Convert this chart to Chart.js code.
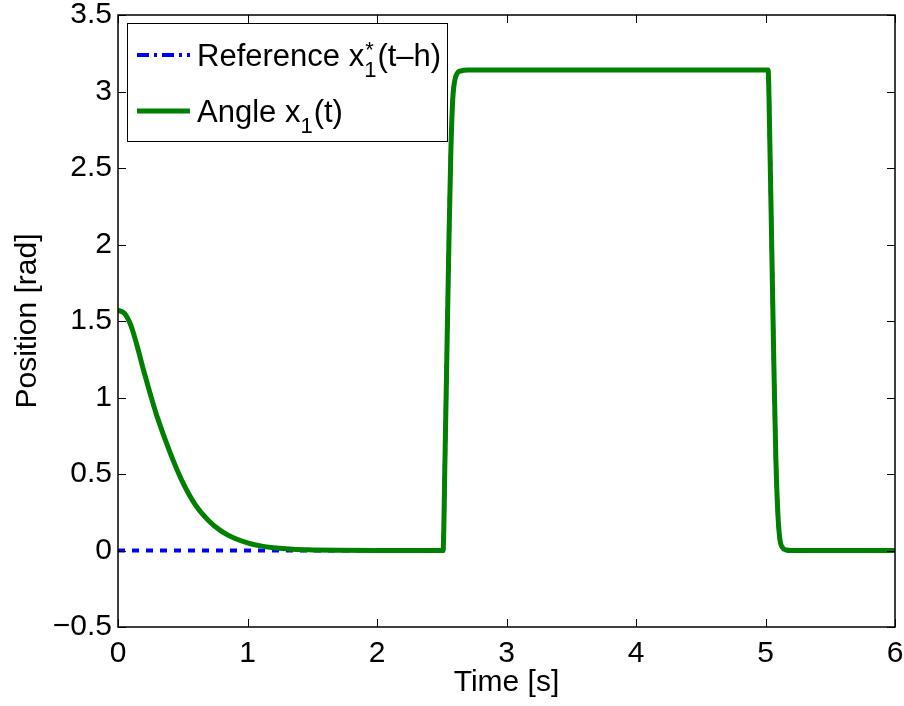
<!DOCTYPE html>
<html><head><meta charset="utf-8">
<script src="https://cdn.jsdelivr.net/npm/chart.js@4/dist/chart.umd.min.js"></script>
<style>html,body{margin:0;padding:0;background:#fff;}#wrap{width:904px;height:706px;position:relative;}</style>
</head><body><div id="wrap"><canvas id="c" width="904" height="706"></canvas></div>
<script>
// ---- data ----
const angleTime  = [0, 0.05, 0.1, 0.15, 0.2, 0.25, 0.3, 0.4, 0.5, 0.6, 0.7, 0.8, 0.9, 1.0, 1.1, 1.2, 1.35, 1.5, 1.7, 2.0, 2.3, 2.51,
                    2.525, 2.54, 2.555, 2.57, 2.585, 2.6, 2.62, 2.65, 2.7, 3.5, 4.5, 5.02,
                    5.035, 5.05, 5.065, 5.08, 5.095, 5.11, 5.13, 5.16, 5.2, 5.6, 6.0];
const angleValue = [1.57, 1.55, 1.47, 1.33, 1.17, 1.02, 0.88, 0.645, 0.445, 0.295, 0.195, 0.125, 0.08, 0.05, 0.03, 0.018, 0.008, 0.004, 0.0015, 0, 0, 0,
                    0.6, 1.3, 2.0, 2.6, 2.95, 3.07, 3.12, 3.135, 3.14, 3.14, 3.14, 3.14,
                    2.6, 1.9, 1.2, 0.6, 0.25, 0.08, 0.02, 0.003, 0, 0, 0];
const refTime  = [0, 1.0, 2.0, 2.51, 2.525, 2.54, 2.555, 2.57, 2.585, 2.6, 2.62, 2.65, 2.7, 3.5, 4.5, 5.02,
                  5.035, 5.05, 5.065, 5.08, 5.095, 5.11, 5.13, 5.16, 5.2, 6.0];
const refValue = [0, 0, 0, 0, 0.6, 1.3, 2.0, 2.6, 2.95, 3.07, 3.12, 3.135, 3.14, 3.14, 3.14, 3.14,
                  2.6, 1.9, 1.2, 0.6, 0.25, 0.08, 0.02, 0.003, 0, 0];
const xTickValues = [0, 1, 2, 3, 4, 5, 6];
const yTickValues = [-0.5, 0, 0.5, 1, 1.5, 2, 2.5, 3, 3.5];
const xTitle = 'Time [s]';
const yTitle = 'Position [rad]';

const FONT = '"Liberation Sans", Arial, Helvetica, sans-serif';
const toPts = (xs, ys) => xs.map((x, i) => ({x: x, y: ys[i]}));

const frame = {
  id: 'frame',
  afterDatasetsDraw(chart) {
    const {ctx, chartArea: a, scales: {x, y}} = chart;
    ctx.save();
    ctx.strokeStyle = '#000';
    ctx.lineWidth = 1;
    const L = 8;
    ctx.beginPath();
    xTickValues.forEach(v => {
      const px = Math.round(x.getPixelForValue(v)) + 0.5;
      ctx.moveTo(px, a.bottom); ctx.lineTo(px, a.bottom - L);
      ctx.moveTo(px, a.top); ctx.lineTo(px, a.top + L);
    });
    yTickValues.forEach(v => {
      const py = Math.round(y.getPixelForValue(v)) + 0.5;
      ctx.moveTo(a.left, py); ctx.lineTo(a.left + L, py);
      ctx.moveTo(a.right, py); ctx.lineTo(a.right - L, py);
    });
    ctx.stroke();
    ctx.lineWidth = 1.5;
    ctx.strokeRect(a.left, a.top, a.right - a.left, a.bottom - a.top);
    ctx.restore();
  },
  afterDraw(chart) {
    const {ctx, chartArea: a} = chart;
    const ds = chart.data.datasets;
    ctx.save();
    const bx = a.left + 9, by = a.top + 8, bw = 320, bh = 118;
    ctx.fillStyle = '#fff';
    ctx.fillRect(bx, by, bw, bh);
    ctx.strokeStyle = '#000';
    ctx.lineWidth = 1;
    ctx.strokeRect(bx + 0.5, by + 0.5, bw, bh);
    const rows = [by + 32, by + 88];
    const lx0 = bx + 10, lx1 = bx + 63, tx = bx + 70;
    ctx.lineCap = 'butt';
    ctx.strokeStyle = ds[0].borderColor; ctx.lineWidth = 4;
    ctx.setLineDash([12, 5, 3, 5]);
    ctx.beginPath(); ctx.moveTo(lx0, rows[0]); ctx.lineTo(lx1, rows[0]); ctx.stroke();
    ctx.setLineDash([]);
    ctx.strokeStyle = ds[1].borderColor; ctx.lineWidth = 5;
    ctx.beginPath(); ctx.moveTo(lx0, rows[1]); ctx.lineTo(lx1, rows[1]); ctx.stroke();
    ctx.fillStyle = '#000';
    ctx.textBaseline = 'alphabetic';
    ctx.textAlign = 'left';
    const big = '31px ' + FONT, small = '22px ' + FONT;
    function write(s, x, yb, f) { ctx.font = f; ctx.fillText(s, x, yb); return x + ctx.measureText(s).width; }
    let yb = rows[0] + 11, x0 = tx;
    x0 = write('Reference x', x0, yb, big);
    ctx.font = small;
    const w1 = ctx.measureText('1').width;
    write('*', x0 + 1, yb - 9, small);
    write('1', x0, yb + 11, small);
    x0 += w1 + 1;
    write('(t\u2013h)', x0, yb, big);
    yb = rows[1] + 11; x0 = tx;
    x0 = write('Angle x', x0, yb, big);
    x0 = write('1', x0, yb + 11, small);
    write('(t)', x0 + 1, yb, big);
    ctx.restore();
  }
};

new Chart(document.getElementById('c'), {
  type: 'scatter',
  data: {
    datasets: [
      { label: 'Reference x1*(t-h)', data: toPts(refTime, refValue), showLine: true, borderColor: 'rgb(0,0,255)',
        borderWidth: 4, borderDash: [7, 7], pointRadius: 0, cubicInterpolationMode: 'monotone', order: 2, fill: false },
      { label: 'Angle x1(t)', data: toPts(angleTime, angleValue), showLine: true, borderColor: 'rgb(0,128,0)',
        borderWidth: 5, pointRadius: 0, cubicInterpolationMode: 'monotone', order: 1, fill: false, borderJoinStyle: 'round', borderCapStyle: 'round' }
    ]
  },
  options: {
    responsive: false, animation: false, devicePixelRatio: 1,
    layout: { padding: { top: 15, right: 9, left: 0, bottom: 0 } },
    plugins: { legend: { display: false }, tooltip: { enabled: false } },
    scales: {
      x: {
        type: 'linear', min: 0, max: 6,
        afterBuildTicks: s => { s.ticks = xTickValues.map(v => ({value: v})); },
        afterFit: s => { s.height = 79; s.paddingLeft = 0; s.paddingRight = 0; },
        grid: { display: false, drawTicks: false }, border: { display: false },
        ticks: { color: '#000', font: { family: FONT, size: 30 }, padding: 9, maxRotation: 0, autoSkip: false },
        title: { display: true, text: xTitle, color: '#000', font: { family: FONT, size: 30 }, padding: { top: 0, bottom: 5 } }
      },
      y: {
        type: 'linear', min: -0.5, max: 3.5,
        afterBuildTicks: s => { s.ticks = yTickValues.map(v => ({value: v})); },
        afterFit: s => { s.width = 118; s.paddingTop = 0; s.paddingBottom = 0; },
        grid: { display: false, drawTicks: false }, border: { display: false },
        ticks: { color: '#000', font: { family: FONT, size: 30 }, padding: 6, autoSkip: false,
          callback: v => String(v).replace('-', '\u2212') },
        title: { display: true, text: yTitle, color: '#000', font: { family: FONT, size: 30 }, padding: { top: 10, bottom: 0 } }
      }
    }
  },
  plugins: [frame]
});
</script>
</body></html>
